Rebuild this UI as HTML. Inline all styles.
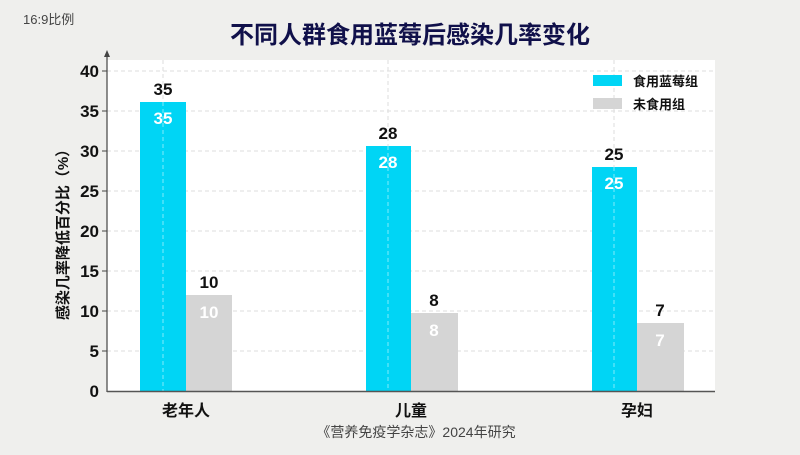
<!DOCTYPE html><html><head><meta charset="utf-8"><style>
body{margin:0;width:800px;height:450px;background:#efefed;font-family:"Liberation Sans","Noto Sans CJK SC",sans-serif;overflow:hidden}
</style></head><body>
<svg width="800" height="450" xmlns="http://www.w3.org/2000/svg" font-family="Liberation Sans, Noto Sans CJK SC, sans-serif">
<rect x="0" y="0" width="800" height="450" fill="#efefed"/>
<rect x="107" y="60" width="608" height="332" fill="#fff"/>
<text x="23" y="24" font-size="13" fill="#444">16:9比例</text>
<text x="410" y="43" font-size="24" font-weight="bold" fill="#10104a" text-anchor="middle">不同人群食用蓝莓后感染几率变化</text>
<g stroke="#ddd" stroke-dasharray="4,3" stroke-width="1">
<line x1="107" x2="715" y1="71" y2="71"/><line x1="107" x2="715" y1="111" y2="111"/><line x1="107" x2="715" y1="151" y2="151"/><line x1="107" x2="715" y1="191" y2="191"/><line x1="107" x2="715" y1="231" y2="231"/><line x1="107" x2="715" y1="271" y2="271"/><line x1="107" x2="715" y1="311" y2="311"/><line x1="107" x2="715" y1="351" y2="351"/>
<line x1="163" x2="163" y1="60" y2="391"/><line x1="388" x2="388" y1="60" y2="391"/><line x1="614" x2="614" y1="60" y2="391"/>
</g>
<rect x="140" y="102" width="46" height="289" fill="#00d5f5"/><rect x="186" y="295" width="46" height="96" fill="#d5d5d5"/>
<rect x="366" y="146" width="45" height="245" fill="#00d5f5"/><rect x="411" y="313" width="47" height="78" fill="#d5d5d5"/>
<rect x="592" y="167" width="45" height="224" fill="#00d5f5"/><rect x="637" y="323" width="47" height="68" fill="#d5d5d5"/>
<g stroke="#ffffff" stroke-opacity="0.5" stroke-dasharray="4,3"><line x1="163" x2="163" y1="102" y2="391"/><line x1="388" x2="388" y1="146" y2="391"/><line x1="614" x2="614" y1="167" y2="391"/></g>
<line x1="107" x2="107" y1="52" y2="392" stroke="#444" stroke-width="1.2"/>
<path d="M104,57 L107,50 L110,57Z" fill="#444"/>
<line x1="107" x2="715" y1="391.5" y2="391.5" stroke="#555" stroke-width="1.5"/>
<g font-size="17" font-weight="bold" fill="#111" text-anchor="end">
<text x="99" y="77">40</text><text x="99" y="117">35</text><text x="99" y="157">30</text><text x="99" y="197">25</text><text x="99" y="237">20</text><text x="99" y="277">15</text><text x="99" y="317">10</text><text x="99" y="357">5</text><text x="99" y="397">0</text>
</g>
<g stroke="#444"><line x1="102" x2="107" y1="71" y2="71"/><line x1="102" x2="107" y1="111" y2="111"/><line x1="102" x2="107" y1="151" y2="151"/><line x1="102" x2="107" y1="191" y2="191"/><line x1="102" x2="107" y1="231" y2="231"/><line x1="102" x2="107" y1="271" y2="271"/><line x1="102" x2="107" y1="311" y2="311"/><line x1="102" x2="107" y1="351" y2="351"/></g>
<text transform="translate(68,231) rotate(-90)" font-size="15" font-weight="bold" fill="#111" text-anchor="middle">感染几率降低百分比（%）</text>
<g font-size="17" font-weight="bold" text-anchor="middle" fill="#111">
<text x="163" y="95">35</text><text x="209" y="288">10</text><text x="388" y="139">28</text><text x="434" y="306">8</text><text x="614" y="160">25</text><text x="660" y="316">7</text>
</g>
<g font-size="17" font-weight="bold" text-anchor="middle" fill="#fff">
<text x="163" y="124">35</text><text x="209" y="318">10</text><text x="388" y="168">28</text><text x="434" y="336">8</text><text x="614" y="189">25</text><text x="660" y="346">7</text>
</g>
<g font-size="16" font-weight="bold" text-anchor="middle" fill="#111">
<text x="186" y="416">老年人</text><text x="411" y="416">儿童</text><text x="637" y="416">孕妇</text>
</g>
<text x="416" y="437" font-size="14" fill="#444" text-anchor="middle">《营养免疫学杂志》2024年研究</text>
<rect x="593" y="75" width="29" height="11" fill="#00d5f5"/><text x="633" y="86" font-size="13" font-weight="bold" fill="#111">食用蓝莓组</text>
<rect x="593" y="98" width="29" height="11" fill="#d5d5d5"/><text x="633" y="109" font-size="13" font-weight="bold" fill="#111">未食用组</text>
</svg>
</body></html>
